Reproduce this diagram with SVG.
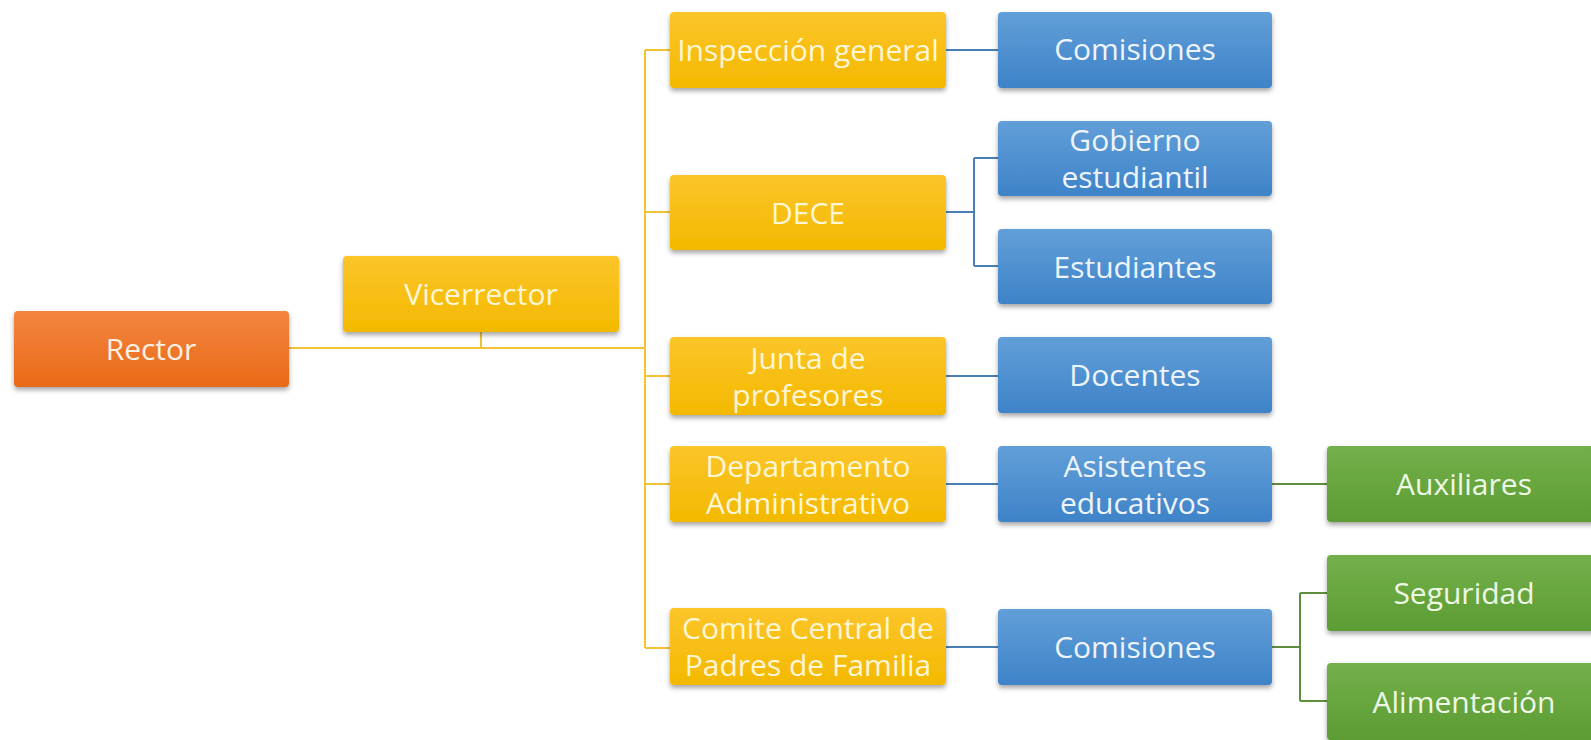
<svg xmlns="http://www.w3.org/2000/svg" width="1591" height="740" viewBox="0 0 1591 740">
<style>
text{font-family:"Open Sans","Noto Sans","Liberation Sans",sans-serif;font-size:30px;text-anchor:middle;dominant-baseline:central}
.ty{fill:#fff6d5}
.tb{fill:#eef4fc}
.tg{fill:#eef8e6}
.to{fill:#fdf0e4}
.cy{stroke:#f2c232;stroke-width:2;fill:none}
.cb{stroke:#4a7fb5;stroke-width:2;fill:none}
.cg{stroke:#5e8f40;stroke-width:2;fill:none}
</style>
<defs>
<linearGradient id="gO" x1="0" y1="0" x2="0" y2="1"><stop offset="0" stop-color="#f3853f"/><stop offset="1" stop-color="#e96a18"/></linearGradient>
<linearGradient id="gY" x1="0" y1="0" x2="0" y2="1"><stop offset="0" stop-color="#fcc52a"/><stop offset="1" stop-color="#f3b900"/></linearGradient>
<linearGradient id="gB" x1="0" y1="0" x2="0" y2="1"><stop offset="0" stop-color="#619fd8"/><stop offset="1" stop-color="#3e83c8"/></linearGradient>
<linearGradient id="gG" x1="0" y1="0" x2="0" y2="1"><stop offset="0" stop-color="#74b04b"/><stop offset="1" stop-color="#5c9c33"/></linearGradient>
<filter id="sh" x="-5%" y="-10%" width="110%" height="130%"><feDropShadow dx="0" dy="3" stdDeviation="2.5" flood-color="#000" flood-opacity="0.35"/></filter>
</defs>
<rect width="1591" height="740" fill="#ffffff"/>
<g id="connectors">
<path class="cy" d="M289 348H645M481 332V348M645 50V648M645 50H670M645 212H670M645 376H670M645 484H670M645 648H670"/>
<path class="cb" d="M946 50H998M946 212H974M974 158V266M974 158H998M974 266H998M946 376H998M946 484H998M946 647H998"/>
<path class="cg" d="M1272 484H1327M1272 647H1300M1300 593V701M1300 593H1327M1300 701H1327"/>
</g>
<g id="rector"><rect x="14" y="311" width="275" height="76" rx="4" fill="url(#gO)" filter="url(#sh)"/><text class="to" x="151" y="348">Rector</text></g>
<g id="vicerrector"><rect x="343" y="256" width="276" height="76" rx="4" fill="url(#gY)" filter="url(#sh)"/><text class="ty" x="481" y="293">Vicerrector</text></g>
<g id="inspeccion"><rect x="670" y="12" width="276" height="76" rx="4" fill="url(#gY)" filter="url(#sh)"/><text class="ty" x="808" y="49">Inspección general</text></g>
<g id="dece"><rect x="670" y="175" width="276" height="75" rx="4" fill="url(#gY)" filter="url(#sh)"/><text class="ty" x="808" y="212">DECE</text></g>
<g id="junta"><rect x="670" y="337" width="276" height="78" rx="4" fill="url(#gY)" filter="url(#sh)"/><text class="ty" x="808" y="357">Junta de</text><text class="ty" x="808" y="394">profesores</text></g>
<g id="departamento"><rect x="670" y="446" width="276" height="76" rx="4" fill="url(#gY)" filter="url(#sh)"/><text class="ty" x="808" y="465">Departamento</text><text class="ty" x="808" y="502">Administrativo</text></g>
<g id="comite"><rect x="670" y="608" width="276" height="77" rx="4" fill="url(#gY)" filter="url(#sh)"/><text class="ty" x="808" y="627">Comite Central de</text><text class="ty" x="808" y="664">Padres de Familia</text></g>
<g id="comisiones1"><rect x="998" y="12" width="274" height="76" rx="4" fill="url(#gB)" filter="url(#sh)"/><text class="tb" x="1135" y="48">Comisiones</text></g>
<g id="gobierno"><rect x="998" y="121" width="274" height="75" rx="4" fill="url(#gB)" filter="url(#sh)"/><text class="tb" x="1135" y="139">Gobierno</text><text class="tb" x="1135" y="176">estudiantil</text></g>
<g id="estudiantes"><rect x="998" y="229" width="274" height="75" rx="4" fill="url(#gB)" filter="url(#sh)"/><text class="tb" x="1135" y="266">Estudiantes</text></g>
<g id="docentes"><rect x="998" y="337" width="274" height="76" rx="4" fill="url(#gB)" filter="url(#sh)"/><text class="tb" x="1135" y="374">Docentes</text></g>
<g id="asistentes"><rect x="998" y="446" width="274" height="76" rx="4" fill="url(#gB)" filter="url(#sh)"/><text class="tb" x="1135" y="465">Asistentes</text><text class="tb" x="1135" y="502">educativos</text></g>
<g id="comisiones2"><rect x="998" y="609" width="274" height="76" rx="4" fill="url(#gB)" filter="url(#sh)"/><text class="tb" x="1135" y="646">Comisiones</text></g>
<g id="auxiliares"><rect x="1327" y="446" width="274" height="76" rx="4" fill="url(#gG)" filter="url(#sh)"/><text class="tg" x="1464" y="483">Auxiliares</text></g>
<g id="seguridad"><rect x="1327" y="555" width="274" height="76" rx="4" fill="url(#gG)" filter="url(#sh)"/><text class="tg" x="1464" y="592">Seguridad</text></g>
<g id="alimentacion"><rect x="1327" y="663" width="274" height="77" rx="4" fill="url(#gG)" filter="url(#sh)"/><text class="tg" x="1464" y="701">Alimentación</text></g>
</svg>
